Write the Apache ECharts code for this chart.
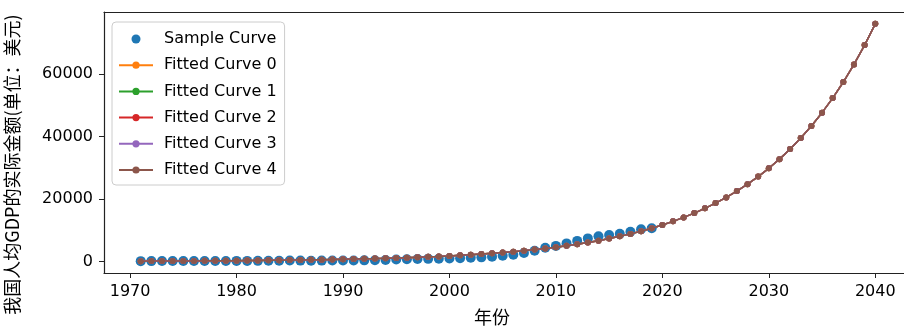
<!DOCTYPE html>
<html>
<head>
<meta charset="utf-8">
<script src="https://cdn.jsdelivr.net/npm/echarts@6/dist/echarts.min.js"></script>
<style>
html,body{margin:0;padding:0;background:#fff;}
#chart{width:904px;height:329px;}
</style>
</head>
<body>
<div id="chart"></div>
<script>
// ---- data ----
const sampleYears = [1971,1972,1973,1974,1975,1976,1977,1978,1979,1980,1981,1982,1983,1984,1985,1986,1987,1988,1989,1990,
  1991,1992,1993,1994,1995,1996,1997,1998,1999,2000,2001,2002,2003,2004,2005,2006,2007,2008,2009,2010,
  2011,2012,2013,2014,2015,2016,2017,2018,2019];
const sampleValues = [118,132,157,160,178,165,185,156,184,195,197,203,225,250,294,282,251,283,311,318,
  333,366,377,480,620,720,800,850,900,980,1080,1180,1330,1560,1820,2150,2700,3450,4400,5000,
  5800,6600,7400,8050,8500,8850,9550,10300,10650];

const fitYears = [1971,1972,1973,1974,1975,1976,1977,1978,1979,1980,1981,1982,1983,1984,1985,1986,1987,1988,1989,1990,
  1991,1992,1993,1994,1995,1996,1997,1998,1999,2000,2001,2002,2003,2004,2005,2006,2007,2008,2009,2010,
  2011,2012,2013,2014,2015,2016,2017,2018,2019,2020,2021,2022,2023,2024,2025,2026,2027,2028,2029,2030,
  2031,2032,2033,2034,2035,2036,2037,2038,2039,2040];
const fitValues = [119,131,144,158,173,190,209,230,252,277,304,334,367,403,442,486,533,586,643,706,
  776,852,935,1027,1128,1238,1360,1493,1639,1800,1977,2171,2384,2618,2874,3156,3466,3806,4179,4589,
  5040,5534,6077,6673,7328,8047,8836,9703,10655,11700,12848,14109,15493,17013,18682,20515,22527,24737,27164,29829,
  32755,35968,39497,43372,47627,52299,57430,63064,69251,76045];
// The five fitted curves coincide in the picture
const fitted0 = fitValues, fitted1 = fitValues, fitted2 = fitValues, fitted3 = fitValues, fitted4 = fitValues;

const xTicks = [1970,1980,1990,2000,2010,2020,2030,2040];
const yTicks = [0,20000,40000,60000];
const seriesNames = ['Sample Curve','Fitted Curve 0','Fitted Curve 1','Fitted Curve 2','Fitted Curve 3','Fitted Curve 4'];
const xLabel = '年份';
const yLabel = '我国人均GDP的实际金额(单位：美元)';

// ---- chart ----
const colors = ['#1f77b4','#ff7f0e','#2ca02c','#d62728','#9467bd','#8c564b'];
const allY = sampleValues.concat(fitValues);
const yMinD = Math.min(...allY), yMaxD = Math.max(...allY);
const yPad = (yMaxD - yMinD) * 0.05;
const xMinD = Math.min(...fitYears, ...sampleYears), xMaxD = Math.max(...fitYears, ...sampleYears);
const xPad = (xMaxD - xMinD) * 0.05;

const pair = (xs, ys) => xs.map((x, i) => [x, ys[i]]);
const fits = [fitted0, fitted1, fitted2, fitted3, fitted4];

const chart = echarts.init(document.getElementById('chart'), null, {renderer: 'canvas'});
const FONT = 'DejaVu Sans, "Noto Sans CJK SC", sans-serif';
const CJK = '"Noto Sans CJK SC", sans-serif';

const series = [{
  name: seriesNames[0], type: 'scatter', data: pair(sampleYears, sampleValues),
  symbol: 'circle', symbolSize: 10, itemStyle: {color: colors[0], opacity: 1}, z: 2
}];
fits.forEach((f, i) => {
  series.push({
    name: seriesNames[i + 1], type: 'line', data: pair(fitYears, f),
    symbol: 'circle', symbolSize: 6, showSymbol: true,
    lineStyle: {color: colors[i + 1], width: 1.5},
    itemStyle: {color: colors[i + 1], borderWidth: 0},
    z: 3 + i
  });
});

chart.setOption({
  animation: false,
  textStyle: {fontFamily: FONT},
  grid: {left: 104, top: 12, right: -8, bottom: 56, containLabel: false, outerBoundsMode: 'none'},
  legend: {
    orient: 'vertical', left: 112, top: 22,
    data: seriesNames.map((n, i) => i === 0 ? {name: n, icon: 'circle'} : {name: n}),
    itemWidth: 34, itemHeight: 9, itemGap: 10.2,
    padding: [9, 8, 7, 6],
    backgroundColor: 'rgba(255,255,255,0.8)', borderColor: '#cccccc', borderWidth: 1, borderRadius: 4,
    textStyle: {fontFamily: FONT, fontSize: 16, color: '#000', padding: [0, 0, 0, 6], lineHeight: 16}
  },
  xAxis: [{
    type: 'value', min: xMinD - xPad, max: xMaxD + xPad,
    name: xLabel, nameLocation: 'middle', nameGap: 35,
    nameTextStyle: {fontFamily: CJK, fontSize: 18, color: '#000', padding: [0, 32, 0, 0]},
    splitLine: {show: false},
    axisLine: {show: true, onZero: false, lineStyle: {color: '#222', width: 1.2}},
    axisTick: {show: true, customValues: xTicks, length: 5, lineStyle: {color: '#222', width: 1}},
    axisLabel: {customValues: xTicks, fontSize: 16, color: '#000', margin: 11, formatter: v => String(v)}
  }, {
    type: 'value', position: 'top', min: xMinD - xPad, max: xMaxD + xPad,
    splitLine: {show: false}, axisTick: {show: false}, axisLabel: {show: false},
    axisLine: {show: true, onZero: false, lineStyle: {color: '#222', width: 1.2}}
  }],
  yAxis: {
    type: 'value', min: yMinD - yPad, max: yMaxD + yPad,
    name: yLabel, nameLocation: 'middle', nameGap: 83,
    nameTextStyle: {fontFamily: CJK, fontSize: 18, color: '#000', padding: [0, 44, 0, 0]},
    splitLine: {show: false},
    axisLine: {show: true, onZero: false, lineStyle: {color: '#222', width: 1.2}},
    axisTick: {show: true, customValues: yTicks, length: 5, lineStyle: {color: '#222', width: 1}},
    axisLabel: {customValues: yTicks, fontSize: 16, color: '#000', margin: 11, formatter: v => String(v)}
  },
  series: series
});
</script>
</body>
</html>
